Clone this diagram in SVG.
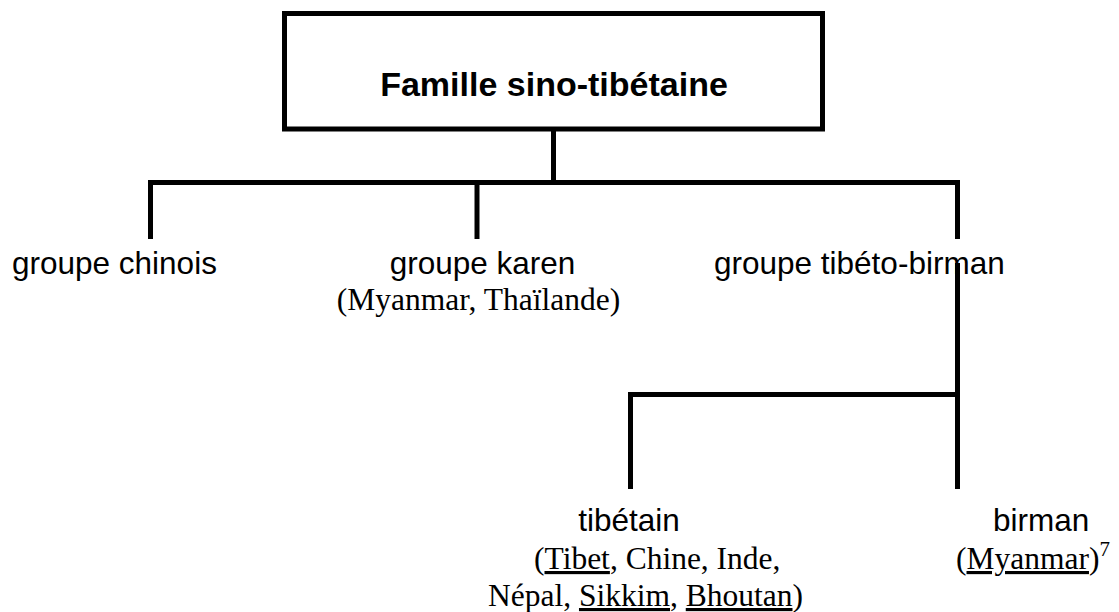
<svg xmlns="http://www.w3.org/2000/svg" width="1119" height="612" viewBox="0 0 1119 612">
<style>
.ln{fill:none;stroke:#000;stroke-width:5;stroke-linejoin:miter}
.a{font-family:"Liberation Sans",Arial,sans-serif;font-size:31.5px;fill:#000}
.t{font-family:"Liberation Serif","Times New Roman",serif;font-size:31.5px;fill:#000}
.b{font-family:"Liberation Sans",Arial,sans-serif;font-size:34px;font-weight:bold;fill:#000}
.u{text-decoration:underline}
</style>
<rect width="1119" height="612" fill="#fff"/>
<g id="connectors">
<path class="ln" d="M553.5 129 V182.5"/>
<path class="ln" d="M150.5 239 V182.5 H957.5 V239"/>
<path class="ln" d="M477 182.5 V239"/>
<path class="ln" d="M957.5 263 V394.5"/>
<path class="ln" d="M630.5 489 V394.5 H957.5 V489"/>
</g>
<g id="root">
<rect x="284.5" y="13.5" width="538" height="115.5" fill="#fff" stroke="#000" stroke-width="5"/>
<text class="b" x="554" y="96" text-anchor="middle">Famille sino-tibétaine</text>
</g>
<g id="chinois">
<text class="a" x="12" y="274">groupe chinois</text>
</g>
<g id="karen">
<text class="a" x="482.5" y="274" text-anchor="middle">groupe karen</text>
<text class="t" x="478.5" y="310" text-anchor="middle">(Myanmar, Thaïlande)</text>
</g>
<g id="tibeto-birman">
<text class="a" x="714" y="274">groupe tibéto-birman</text>
</g>
<g id="tibetain">
<text class="a" x="629" y="531" text-anchor="middle">tibétain</text>
<text class="t" x="534" y="569">(<tspan class="u">Tibet</tspan>, Chine, Inde,</text>
<text class="t" x="488" y="606">Népal, <tspan class="u">Sikkim</tspan>, <tspan class="u">Bhoutan</tspan>)</text>
</g>
<g id="birman">
<text class="a" x="993" y="531">birman</text>
<text class="t" x="956" y="569">(<tspan class="u">Myanmar</tspan>)<tspan font-size="21" dy="-13">7</tspan></text>
</g>
</svg>
